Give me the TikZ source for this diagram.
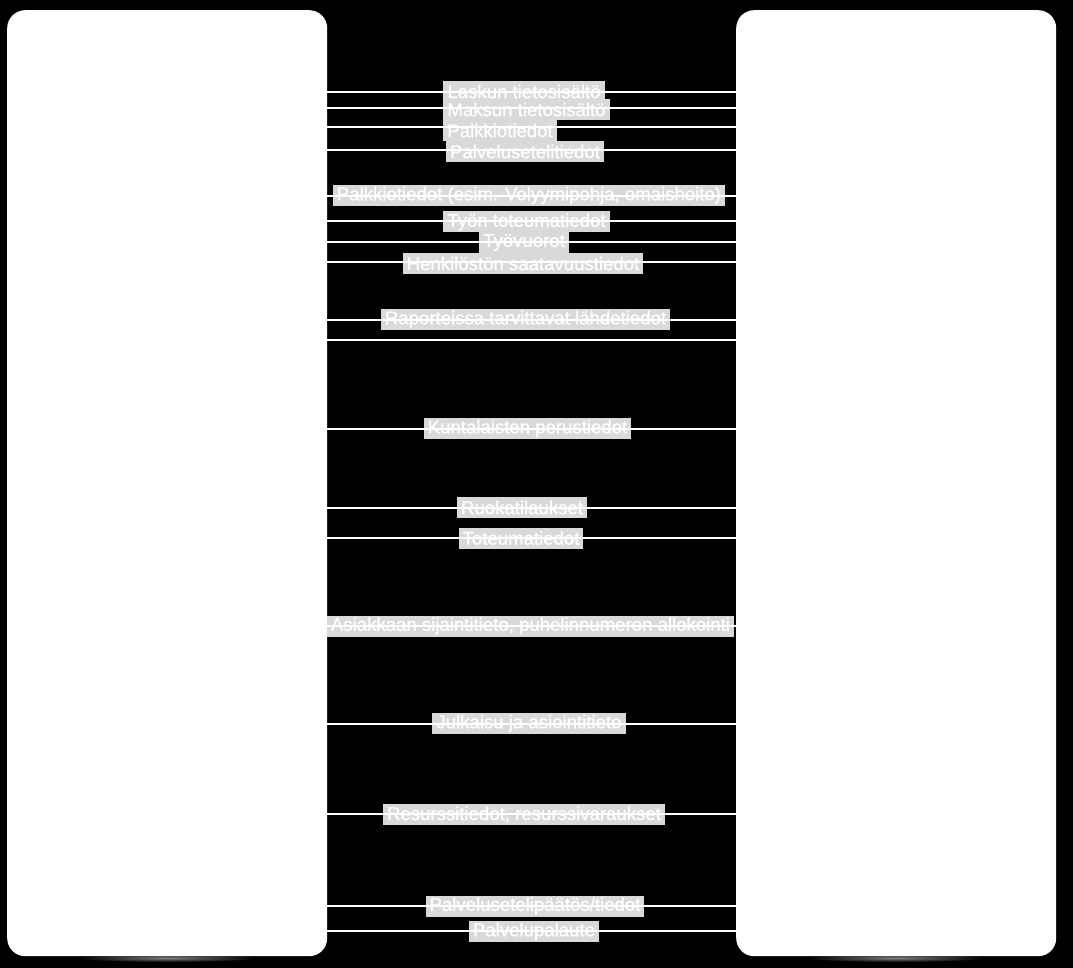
\documentclass[tikz,border=0pt]{standalone}
\usepackage{fontspec}
\setmainfont{Liberation Sans}
\newfontfamily\labfont[FakeBold=0.8]{Liberation Sans}
\begin{document}
\begin{tikzpicture}[x=1pt,y=-1pt,
  panel/.style={fill=white, rounded corners=18pt, inner sep=0pt, minimum width=320pt, minimum height=946pt, anchor=north west},
  lab/.style={fill=black!15, text=white, inner xsep=4pt, inner ysep=0pt, minimum height=21pt, font=\labfont\fontsize{18.6}{20}\selectfont},
  flow/.style={draw=white, line width=2pt}]
\fill[black] (0,0) rectangle (1073,968);
\useasboundingbox (0,0) rectangle (1073,968);
% glow below panels
\shade[inner color=black!50, outer color=black] (167,958) ellipse [x radius=90, y radius=4];
\shade[inner color=black!50, outer color=black] (896,958) ellipse [x radius=90, y radius=4];
\node[panel] (L) at (7,10) {};
\node[panel] (R) at (736,10) {};
% labels
\node[lab] (l1) at (524,91.5) {Laskun tietosisältö};
\node[lab] (l2) at (526.5,109.5) {Maksun tietosisältö};
\node[lab] (l3) at (500,130.5) {Palkkiotiedot};
\node[lab] (l4) at (525,151.5) {Palvelusetelitiedot};
\node[lab] (l5) at (529,195.5) {Palkkiotiedot (esim. Volyymipohja, omaishoito)};
\node[lab] (l6) at (526.5,222) {Työn toteumatiedot};
\node[lab] (l7) at (524,242.5) {Työvuorot};
\node[lab] (l8) at (523,263.5) {Henkilöstön saatavuustiedot};
\node[lab] (l9) at (525.5,319.5) {Raporteissa tarvittavat lähdetiedot};
\node[lab] (l10) at (527.5,428.5) {Kuntalaisten perustiedot};
\node[lab] (l11) at (522,507.5) {Ruokatilaukset};
\node[lab] (l12) at (521,538) {Toteumatiedot};
\node[lab] (l13) at (530.5,626) {Asiakkaan sijaintitieto, puhelinnumeron allokointi};
\node[lab] (l14) at (529,723.5) {Julkaisu ja asiointitieto};
\node[lab] (l15) at (524,814.5) {Resurssitiedot, resurssivaraukset};
\node[lab] (l16) at (535,906) {Palvelusetelipäätös/tiedot};
\node[lab] (l17) at (534,931.5) {Palvelupalaute};
% connectors
\foreach \yy in {91.7,107.7,127.5,150,195.7,221,241.7,261.7,320,339.5,428.5,507.5,538,625.5,723.5,813.7,906,930.7}{
  \draw[flow] (L.east |- 0,\yy) -- (R.west |- 0,\yy);
}
\end{tikzpicture}
\end{document}
